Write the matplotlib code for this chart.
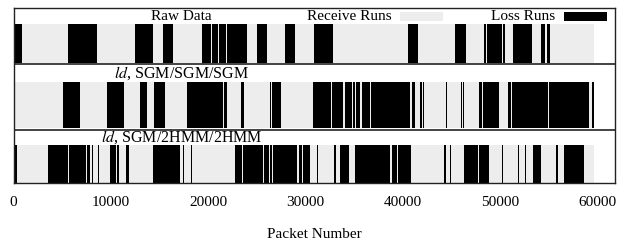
import matplotlib
matplotlib.use("Agg")
import matplotlib.pyplot as plt
from matplotlib.patches import Rectangle

plt.rcParams['font.family'] = ['Liberation Serif', 'DejaVu Serif']
plt.rcParams['mathtext.fontset'] = 'stix'

# ---- data: loss runs (start, end) in packet numbers ----
trace_end = 59700

raw_loss = [(0, 850), (5630, 8590), (12490, 14350), (15370, 16400), (19350, 20310),
            (20440, 21060), (21180, 21900), (21990, 24040), (25070, 26040),
            (27920, 28950), (30900, 32820), (40600, 41560), (45400, 46530),
            (48410, 48590), (48720, 50180), (50300, 50540), (51330, 53320),
            (54240, 54650), (54810, 55170)]

sgm_loss = [(5120, 6840), (9620, 11360), (13010, 13700), (14450, 15580), (17870, 21570),
            (21680, 21920), (23390, 23700), (26380, 26480), (26610, 27510),
            (30830, 32650), (32720, 33910), (34090, 34780), (34940, 35120),
            (35220, 35630), (35870, 36660), (36760, 40770), (40950, 41050),
            (41110, 41290), (41800, 42040), (42080, 42240), (44470, 44610),
            (46020, 46150), (46220, 46360), (47870, 48150), (48310, 49920),
            (50880, 51130), (51260, 54990), (55100, 59210), (59350, 59420),
            (59490, 59700)]

hmm_loss = [(0, 330), (3520, 5570), (5680, 7460), (7560, 7730), (7800, 7900),
            (8040, 8140), (8720, 8820), (9920, 10540), (10670, 10880), (11570, 11910),
            (14310, 17120), (17460, 17560), (18220, 18360), (22780, 23470),
            (23570, 25690), (25790, 26300), (26410, 26580), (26680, 29120),
            (29360, 29640), (29740, 30490), (31180, 31340), (32960, 33130),
            (33570, 34530), (35120, 38720), (38890, 39400), (39570, 40840),
            (44270, 44470), (44890, 44990), (46330, 47800), (47900, 48900),
            (50230, 50370), (51880, 52010), (52570, 52700), (53450, 54240),
            (55790, 55990), (56610, 58660)]

panel_labels = ["Raw Data", r"$\mathit{ld}$, SGM/SGM/SGM", r"$\mathit{ld}$, SGM/2HMM/2HMM"]
xticks = [0, 10000, 20000, 30000, 40000, 50000, 60000]

GRAY = '#ededed'
fig = plt.figure(figsize=(6.26, 2.44), dpi=100)
ax = fig.add_axes([13.5 / 626, 61 / 244, 601.5 / 626, 175 / 244])
ax.set_xlim(0, 61850)
ax.set_ylim(0, 175)

# panel geometry (bar bottom, bar height, label y)
panels = [(120, 39, 167), (55, 46, 110), (0, 38, 46)]
series = [raw_loss, sgm_loss, hmm_loss]
label_sizes = [11, 11.5, 11.5]
for (y0, h, ly), runs, lab, fs in zip(panels, series, panel_labels, label_sizes):
    ax.broken_barh([(0, trace_end)], (y0, h), facecolors=GRAY, edgecolor='none')
    ax.broken_barh([(s, e - s) for s, e in runs], (y0, h), facecolors='black',
                   edgecolor='none')
    ax.text(17300, ly, lab, ha='center', va='center', fontsize=fs)

for ysep in (119, 53):
    ax.axhline(ysep, color='#222222', lw=1.2)

# legend
ax.text(38900, 166.5, "Receive Runs", ha='right', va='center', fontsize=11)
ax.add_patch(Rectangle((39740, 162.3), 4420, 9, facecolor=GRAY, edgecolor='none'))
ax.text(55700, 166.5, "Loss Runs", ha='right', va='center', fontsize=11)
ax.add_patch(Rectangle((56610, 162.3), 4420, 9, facecolor='black', edgecolor='none'))

ax.set_yticks([])
ax.set_xticks(xticks)
ax.set_xticklabels([str(t) for t in xticks])
ax.tick_params(axis='x', length=0, pad=9, labelsize=11)
ax.set_xlabel("Packet Number", fontsize=11, labelpad=14)
for sp in ax.spines.values():
    sp.set_color('#222222')
    sp.set_linewidth(1.0)

fig.savefig("out.png", dpi=100)
